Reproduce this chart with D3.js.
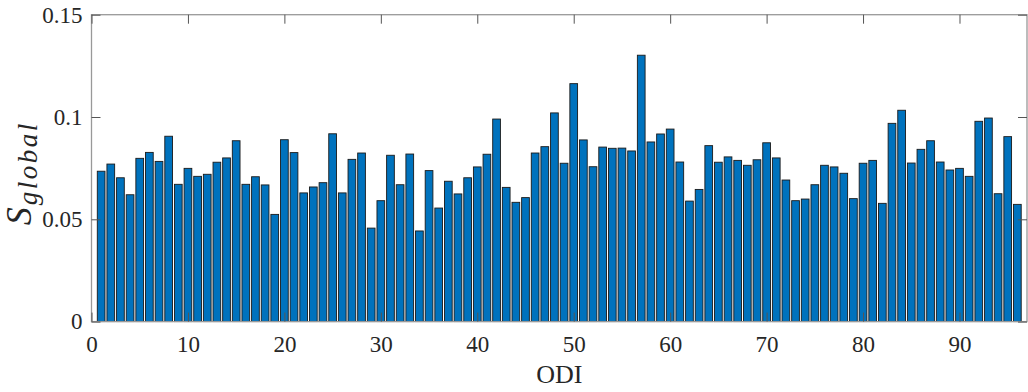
<!DOCTYPE html>
<html>
<head>
<meta charset="utf-8">
<script src="https://cdn.jsdelivr.net/npm/d3@7"></script>
<style>
  body { margin: 0; background: #fff; }
  .axis line { stroke: #555; }
</style>
</head>
<body>
<div id="chart-container"></div>
<script>
// S_global for each ODI
const sGlobal = [
  0.0735, 0.0770, 0.0703, 0.0620, 0.0798, 0.0827, 0.0783, 0.0906, 0.0671, 0.0749,
  0.0710, 0.0720, 0.0779, 0.0800, 0.0884, 0.0671, 0.0708, 0.0668, 0.0524, 0.0889,
  0.0826, 0.0629, 0.0658, 0.0679, 0.0918, 0.0629, 0.0793, 0.0824, 0.0457, 0.0591,
  0.0813, 0.0669, 0.0819, 0.0443, 0.0738, 0.0555, 0.0686, 0.0624, 0.0703, 0.0756,
  0.0818, 0.0990, 0.0656, 0.0583, 0.0606, 0.0824, 0.0855, 0.1020, 0.0774, 0.1163,
  0.0888, 0.0757, 0.0853, 0.0847, 0.0848, 0.0834, 0.1302, 0.0878, 0.0917, 0.0941,
  0.0780, 0.0589, 0.0646, 0.0860, 0.0779, 0.0805, 0.0788, 0.0764, 0.0791, 0.0874,
  0.0800, 0.0692, 0.0591, 0.0599, 0.0669, 0.0764, 0.0756, 0.0725, 0.0601, 0.0774,
  0.0788, 0.0578, 0.0969, 0.1033, 0.0775, 0.0842, 0.0884, 0.0780, 0.0741, 0.0749,
  0.0710, 0.0979, 0.0995, 0.0625, 0.0904, 0.0573
];
const odi = sGlobal.map((_, i) => i + 1);
const xTicks = [0, 10, 20, 30, 40, 50, 60, 70, 80, 90];
const yTicks = [0, 0.05, 0.1, 0.15];
const yTickLabels = ["0", "0.05", "0.1", "0.15"];

const serif = "'Liberation Serif', 'Times New Roman', serif";
const width = 1028;
const height = 392;
const plot = { left: 91.5, right: 1027, top: 14.7, bottom: 321.6 };

const xScale = d3.scaleLinear().domain([0, 97]).range([plot.left, plot.right]);
const yScale = d3.scaleLinear().domain([0, 0.15]).range([plot.bottom, plot.top]);
const barWidth = 0.8 * (xScale(1) - xScale(0));

const svg = d3
  .select("#chart-container")
  .append("svg")
  .attr("width", width)
  .attr("height", height);

svg
  .append("g")
  .selectAll("rect")
  .data(odi)
  .enter()
  .append("rect")
  .attr("x", d => xScale(d) - barWidth / 2)
  .attr("y", (d, i) => yScale(sGlobal[i]))
  .attr("width", barWidth)
  .attr("height", (d, i) => yScale(0) - yScale(sGlobal[i]))
  .attr("fill", "#0072BD")
  .attr("stroke", "#1a1a1a")
  .attr("stroke-width", 0.9);

// axes box
svg
  .append("rect")
  .attr("x", plot.left)
  .attr("y", plot.top)
  .attr("width", plot.right - plot.left)
  .attr("height", plot.bottom - plot.top)
  .attr("fill", "none")
  .attr("stroke", "#999")
  .attr("stroke-width", 1.3);

const fmtY = d => yTickLabels[yTicks.indexOf(d)];

const xAxis = d3.axisBottom(xScale).tickValues(xTicks).tickSizeInner(-9).tickSizeOuter(0).tickPadding(14);
const yAxis = d3.axisLeft(yScale).tickValues(yTicks).tickFormat(fmtY).tickSizeInner(-9).tickSizeOuter(0).tickPadding(9);

svg
  .append("g")
  .attr("class", "axis")
  .attr("transform", `translate(0, ${plot.bottom})`)
  .call(xAxis);

svg
  .append("g")
  .attr("class", "axis")
  .attr("transform", `translate(0, ${plot.top})`)
  .call(d3.axisTop(xScale).tickValues(xTicks).tickSizeInner(-9).tickSizeOuter(0).tickFormat(""));

svg
  .append("g")
  .attr("class", "axis")
  .attr("transform", `translate(${plot.left}, 0)`)
  .call(yAxis);

svg
  .append("g")
  .attr("class", "axis")
  .attr("transform", `translate(${plot.right}, 0)`)
  .call(d3.axisRight(yScale).tickValues(yTicks).tickSizeInner(-9).tickSizeOuter(0).tickFormat(""));

svg.selectAll(".axis .domain").remove();
svg.selectAll(".axis").attr("font-family", null).attr("font-size", null);
svg.selectAll(".axis text")
  .style("font-family", serif)
  .style("font-size", "23px")
  .attr("fill", "#262626");

// axis labels
svg
  .append("text")
  .text("ODI")
  .attr("x", (plot.left + plot.right) / 2)
  .attr("y", 383)
  .attr("text-anchor", "middle")
  .style("font-family", serif)
  .style("font-size", "26px")
  .attr("fill", "#262626");

const yLabel = svg
  .append("text")
  .attr("transform", `translate(31, ${(plot.top + plot.bottom) / 2 + 5}) rotate(-90)`)
  .attr("text-anchor", "middle")
  .style("font-family", serif)
  .style("font-style", "italic")
  .attr("fill", "#262626");
yLabel.append("tspan").text("S").style("font-size", "36px");
yLabel.append("tspan").text("global").style("font-size", "27px")
  .style("letter-spacing", "2.5px").attr("dy", 6).attr("dx", 2);
</script>
</body>
</html>
